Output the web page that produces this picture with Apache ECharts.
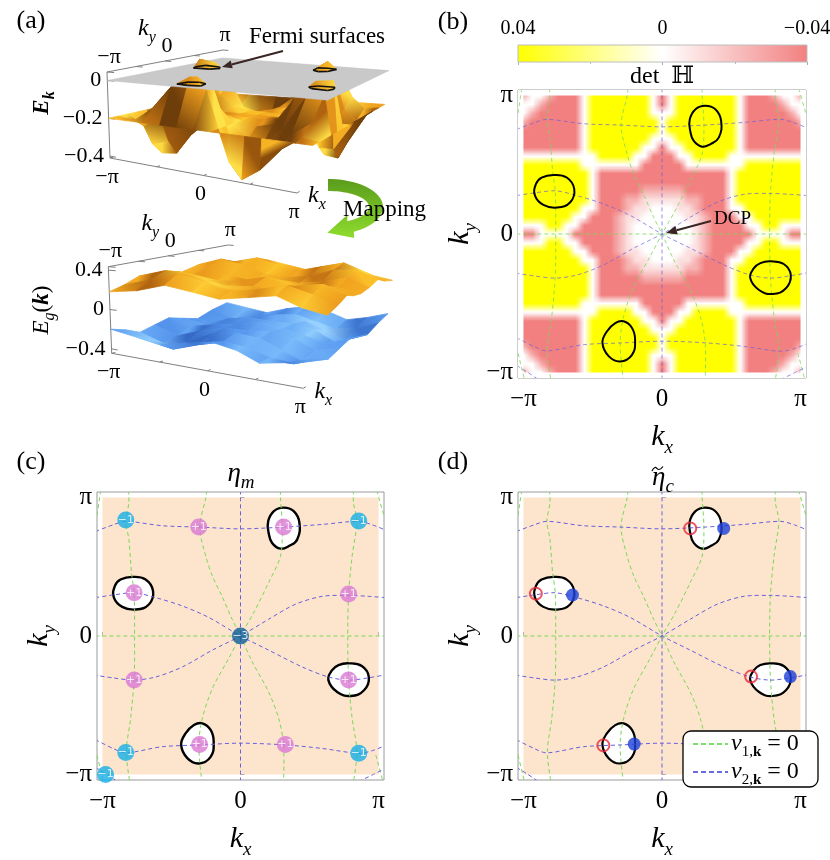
<!DOCTYPE html>
<html>
<head>
<meta charset="utf-8">
<title>Fermi surfaces, det H and velocity zeros</title>
<script src="https://cdn.jsdelivr.net/npm/echarts@6.0.0/dist/echarts.min.js"></script>
<style>
  html, body { margin: 0; padding: 0; background: #fff; }
  #main { width: 830px; height: 860px; }
</style>
</head>
<body>
<div id="main"></div>
<script>
var PI = Math.PI;
var SERIF = '"Liberation Serif", "DejaVu Serif", serif';

// ---------------- data ----------------
var kTicks = [-PI, 0, PI];
var ekTicks = [0, -0.2, -0.4];
var egTicks = [0.4, 0, -0.4];

// E_k, 13 x 13 samples, rows ky = -pi..pi, columns kx = -pi..pi
var ekGrid = [
  [-0.20, -0.20, -0.20, -0.20, -0.20, -0.20, -0.20, -0.20, -0.20, -0.20, -0.20, -0.20, -0.20],
  [-0.20, -0.21, -0.14, -0.02, 0.04, -0.02, -0.20, -0.35, -0.42, -0.36, -0.25, -0.19, -0.20],
  [-0.20, -0.25, -0.20, -0.03, 0.03, -0.03, -0.20, -0.35, -0.41, -0.33, -0.20, -0.14, -0.20],
  [-0.20, -0.36, -0.33, -0.20, -0.07, -0.13, -0.20, -0.27, -0.29, -0.20, -0.03, -0.02, -0.20],
  [-0.20, -0.42, -0.41, -0.29, -0.20, -0.18, -0.20, -0.22, -0.20, -0.06, 0.03, 0.04, -0.20],
  [-0.20, -0.35, -0.35, -0.27, -0.22, -0.20, -0.20, -0.20, -0.18, -0.13, -0.02, -0.02, -0.20],
  [-0.20, -0.20, -0.20, -0.20, -0.20, -0.20, -0.20, -0.20, -0.20, -0.20, -0.20, -0.20, -0.20],
  [-0.20, -0.02, -0.02, -0.13, -0.18, -0.20, -0.20, -0.20, -0.22, -0.27, -0.35, -0.35, -0.20],
  [-0.20, 0.04, 0.03, -0.06, -0.20, -0.22, -0.20, -0.18, -0.20, -0.29, -0.41, -0.42, -0.20],
  [-0.20, -0.02, -0.03, -0.20, -0.29, -0.27, -0.20, -0.13, -0.07, -0.20, -0.34, -0.36, -0.20],
  [-0.20, -0.15, -0.20, -0.34, -0.41, -0.35, -0.20, -0.03, 0.03, -0.03, -0.20, -0.26, -0.20],
  [-0.20, -0.19, -0.26, -0.36, -0.42, -0.35, -0.20, -0.02, 0.04, -0.02, -0.15, -0.21, -0.20],
  [-0.20, -0.20, -0.20, -0.20, -0.20, -0.20, -0.20, -0.20, -0.20, -0.20, -0.20, -0.20, -0.20]
];

// E_g(k) upper and lower sheets, 9 x 9 samples
var egUpper = [
  [0.18, 0.22, 0.30, 0.26, 0.22, 0.26, 0.30, 0.22, 0.18],
  [0.22, 0.30, 0.38, 0.32, 0.26, 0.30, 0.36, 0.30, 0.22],
  [0.28, 0.36, 0.34, 0.26, 0.22, 0.24, 0.32, 0.36, 0.28],
  [0.24, 0.32, 0.26, 0.22, 0.24, 0.20, 0.24, 0.30, 0.24],
  [0.22, 0.26, 0.22, 0.24, 0.30, 0.24, 0.22, 0.26, 0.22],
  [0.24, 0.30, 0.24, 0.20, 0.24, 0.22, 0.26, 0.32, 0.24],
  [0.28, 0.36, 0.32, 0.24, 0.22, 0.26, 0.34, 0.36, 0.28],
  [0.22, 0.30, 0.36, 0.30, 0.26, 0.32, 0.38, 0.30, 0.22],
  [0.18, 0.22, 0.30, 0.26, 0.22, 0.26, 0.30, 0.22, 0.18]
];
var egLower = [
  [-0.20, -0.24, -0.28, -0.22, -0.18, -0.22, -0.30, -0.26, -0.20],
  [-0.24, -0.32, -0.36, -0.28, -0.22, -0.24, -0.30, -0.32, -0.24],
  [-0.30, -0.38, -0.32, -0.22, -0.18, -0.20, -0.28, -0.36, -0.30],
  [-0.26, -0.34, -0.26, -0.20, -0.20, -0.18, -0.22, -0.30, -0.26],
  [-0.22, -0.28, -0.24, -0.20, -0.16, -0.20, -0.24, -0.30, -0.22],
  [-0.26, -0.30, -0.22, -0.18, -0.20, -0.20, -0.24, -0.34, -0.26],
  [-0.30, -0.36, -0.28, -0.20, -0.18, -0.22, -0.30, -0.38, -0.30],
  [-0.24, -0.32, -0.30, -0.24, -0.22, -0.28, -0.34, -0.32, -0.24],
  [-0.20, -0.24, -0.28, -0.22, -0.18, -0.22, -0.30, -0.26, -0.20]
];

// det H sampled every pi/16, rows from ky = pi (top) to -pi, columns kx = -pi..pi
// Y = 0.04, w = 0, p = -0.01, r = -0.025, R = -0.04
var detLevels = { Y: 0.04, w: 0, p: -0.01, r: -0.025, R: -0.04 };
var detRows = [
  'rwwrRRRwYYYYYYYwRwYYYYYYYwRRRrwwr',
  'wwrRRRRwYYYYYYYwRwYYYYYYYwRRRRrww',
  'wrRRRRRwYYYYYYYwwwYYYYYYYwRRRRRrw',
  'rRRRRRRwYYYYYYYYwYYYYYYYYwRRRRRRr',
  'RRRRRRRwYYYYYYYYwYYYYYYYYwRRRRRRR',
  'RRRRRRRwYYYYYYYwwwYYYYYYYwRRRRRRR',
  'RRRRRRRwYYYYYYwwRwwYYYYYYwRRRRRRR',
  'wwwwwwwwwYYYYwwRRRwwYYYYwwwwwwwww',
  'YYYYYYYwwwwwwwRRRRRwwwwwwwYYYYYYY',
  'YYYYYYYYwRRRRRRRRRRRRRRRwYYYYYYYY',
  'YYYYYYYYwRRRRRRRRRRRRRRRwYYYYYYYY',
  'YYYYYYYYwRRRRRrrrrrRRRRRwYYYYYYYY',
  'YYYYYYYYwRRRrrppppprrRRRwYYYYYYYY',
  'YYYYYYYwwRRRrppwwwpprRRRwwYYYYYYY',
  'YYYYYYwwRRRrppwwwwwpprRRRwwYYYYYY',
  'wwwYYwwRRRRrpwwwwwwwprRRRRwwYYwww',
  'RRwwwwRRRRRrpwwwwwwwprRRRRRwwwwRR',
  'wwwYYwwRRRRrpwwwwwwwprRRRRwwYYwww',
  'YYYYYYwwRRRrppwwwwwpprRRRwwYYYYYY',
  'YYYYYYYwwRRRrppwwwpprRRRwwYYYYYYY',
  'YYYYYYYYwRRRrrppppprrRRRwYYYYYYYY',
  'YYYYYYYYwRRRRRrrrrrRRRRRwYYYYYYYY',
  'YYYYYYYYwRRRRRRRRRRRRRRRwYYYYYYYY',
  'YYYYYYYYwRRRRRRRRRRRRRRRwYYYYYYYY',
  'YYYYYYYwwwwwwwRRRRRwwwwwwwYYYYYYY',
  'wwwwwwwwwYYYYwwRRRwwYYYYwwwwwwwww',
  'RRRRRRRwYYYYYYwwRwwYYYYYYwRRRRRRR',
  'RRRRRRRwYYYYYYYwwwYYYYYYYwRRRRRRR',
  'RRRRRRRwYYYYYYYYwYYYYYYYYwRRRRRRR',
  'rRRRRRRwYYYYYYYYwYYYYYYYYwRRRRRRr',
  'wrRRRRRwYYYYYYYwwwYYYYYYYwRRRRRrw',
  'wwrRRRRwYYYYYYYwRwYYYYYYYwRRRRrww',
  'rwwrRRRwYYYYYYYwRwYYYYYYYwRRRrwwr'
];

// v1 = 0 (green) and v2 = 0 (blue) curves, points [kx, ky]
var v1Lines = [
  [[-3.3, 0], [3.3, 0]],
  [[-2.55, 3.3], [-2.54, 3.02], [-2.61, 2.6], [-2.54, 2.19], [-2.48, 1.43], [-2.42, 0.97], [-2.41, 0], [-2.42, -0.96], [-2.5, -1.87], [-2.6, -2.62], [-2.52, -3.3]],
  [[2.57, 3.3], [2.57, 3.02], [2.65, 2.6], [2.54, 1.81], [2.46, 0.95], [2.44, 0], [2.46, -1.0], [2.54, -1.87], [2.65, -2.62], [2.57, -3.3]],
  [[-0.77, 3.3], [-0.79, 3.13], [-0.93, 2.47], [-0.79, 1.81], [-0.64, 1.36], [-0.42, 0.9], [-0.19, 0.38], [0, 0], [0.27, -0.59], [0.64, -1.27], [0.87, -1.87], [0.98, -2.47], [0.98, -3.3]],
  [[0.91, 3.3], [0.91, 3.13], [0.95, 2.47], [0.91, 1.81], [0.64, 1.21], [0.3, 0.53], [0, 0], [-0.27, -0.51], [-0.64, -1.19], [-0.87, -1.87], [-0.95, -2.47], [-0.88, -3.3]],
  [[-3.18, 3.3], [-3.3, 2.5]],
  [[3.1, 3.3], [3.3, 2.6]],
  [[-3.3, -2.55], [-3.12, -3.3]],
  [[3.08, -2.7], [3.24, -3.3]]
];
var v2Lines = [
  [[0, 3.3], [0, -3.3]],
  [[-3.3, 2.37], [-2.9, 2.52], [-2.61, 2.6], [-1.78, 2.5], [-0.95, 2.47], [0, 2.43], [0.98, 2.47], [1.86, 2.53], [2.69, 2.6], [3.0, 2.52], [3.3, 2.4]],
  [[-3.3, -2.35], [-2.9, -2.55], [-2.61, -2.65], [-1.78, -2.51], [-0.93, -2.47], [0, -2.43], [1.02, -2.47], [1.86, -2.55], [2.69, -2.66], [3.0, -2.6], [3.3, -2.48]],
  [[-3.3, 0.87], [-2.9, 0.93], [-2.42, 0.98], [-1.93, 0.87], [-1.32, 0.68], [-0.72, 0.42], [0, 0], [0.64, -0.32], [1.4, -0.7], [2.0, -0.93], [2.46, -1.0], [2.9, -0.95], [3.3, -0.88]],
  [[3.3, 0.87], [2.9, 0.9], [2.46, 0.92], [1.86, 0.9], [1.25, 0.72], [0.64, 0.38], [0, 0], [-0.64, -0.32], [-1.32, -0.7], [-1.93, -0.93], [-2.42, -1.0], [-2.9, -0.95], [-3.3, -0.89]],
  [[-3.3, -2.98], [-3.07, -3.12], [-2.8, -3.3]],
  [[2.69, -3.3], [3.0, -3.15], [3.3, -3.0]]
];

// Fermi surfaces (closed curves)
var fermiPockets = [
  [[0.98, 2.91], [1.21, 2.83], [1.34, 2.57], [1.29, 2.19], [1.1, 2.04], [0.91, 1.98], [0.72, 2.11], [0.64, 2.34], [0.63, 2.6], [0.76, 2.83]],
  [[-2.46, 1.34], [-2.16, 1.28], [-1.99, 1.02], [-2.08, 0.72], [-2.38, 0.6], [-2.69, 0.66], [-2.88, 0.87], [-2.86, 1.13], [-2.73, 1.28]],
  [[2.46, -0.62], [2.76, -0.68], [2.92, -0.93], [2.81, -1.23], [2.51, -1.36], [2.2, -1.27], [2.0, -1.0], [2.08, -0.78], [2.23, -0.66]],
  [[-0.87, -1.98], [-0.68, -2.13], [-0.61, -2.4], [-0.68, -2.74], [-0.95, -2.89], [-1.21, -2.77], [-1.35, -2.47], [-1.25, -2.21], [-1.06, -2.02]]
];

// eta_m charges (c) and eta_c points (d)
var chargePlus1 = [[-0.95, 2.47], [0.98, 2.47], [-2.42, 0.98], [2.46, 0.95], [-2.42, -1.0], [2.46, -1.0], [-0.93, -2.46], [1.02, -2.46]];
var chargeMinus1 = [[-2.61, 2.63], [2.69, 2.61], [-2.61, -2.64], [2.69, -2.66], [-3.07, -3.14]];
var chargeMinus3 = [[0, 0]];
var etaOpen = [[0.64, 2.44], [-2.86, 0.96], [2.02, -0.92], [-1.33, -2.48]];
var etaSolid = [[1.40, 2.44], [-2.03, 0.93], [2.91, -0.92], [-0.63, -2.45]];

// ---------------- layout ----------------
var KR = 3.265;
var boxTop = {
  emin: -0.41, emax: 0.045, ticks: ekTicks,
  c000: [110, 158], c100: [297, 193], c010: [221, 130], c110: [380, 140],
  c001: [107, 72], c101: [331, 90], c011: [223, 50], c111: [390, 63]
};
var boxBottom = {
  emin: -0.445, emax: 0.435, ticks: egTicks,
  c000: [111.7, 353.3], c100: [303.3, 388.3], c010: [226.3, 325], c110: [385.3, 335],
  c001: [108.3, 266.7], c101: [337.3, 285.3], c011: [228.3, 245], c111: [395.3, 258]
};
var boxes = [boxTop, boxBottom];

var GREEN = '#79d957';
var BLUE = '#6a60dc';
var orangePal = [[0, [110, 62, 10]], [0.45, [185, 105, 16]], [0.7, [240, 160, 30]], [0.86, [252, 196, 42]], [1, [255, 232, 80]]];
var bluePal = [[0, [30, 62, 135]], [0.45, [52, 106, 198]], [0.7, [85, 150, 238]], [0.86, [118, 184, 250]], [1, [170, 224, 255]]];

// ---------------- helpers ----------------
function kLabel(v) {
  if (Math.abs(v) < 1e-9) return '0';
  return v < 0 ? '\u2212\u03c0' : '\u03c0';
}
function eLabel(v) {
  if (Math.abs(v) < 1e-9) return '0';
  return (v < 0 ? '\u2212' : '') + Math.abs(v).toFixed(1);
}
function bilerp(c00, c10, c01, c11, u, v) {
  return [
    (1 - u) * (1 - v) * c00[0] + u * (1 - v) * c10[0] + (1 - u) * v * c01[0] + u * v * c11[0],
    (1 - u) * (1 - v) * c00[1] + u * (1 - v) * c10[1] + (1 - u) * v * c01[1] + u * v * c11[1]
  ];
}
function project(box, kx, ky, e) {
  var u = (kx + PI) / (2 * PI), v = (ky + PI) / (2 * PI);
  var w = (e - box.emin) / (box.emax - box.emin);
  var b = bilerp(box.c000, box.c100, box.c010, box.c110, u, v);
  var t = bilerp(box.c001, box.c101, box.c011, box.c111, u, v);
  return [b[0] + (t[0] - b[0]) * w, b[1] + (t[1] - b[1]) * w];
}
function norm(a) {
  var l = Math.sqrt(a[0] * a[0] + a[1] * a[1] + a[2] * a[2]) || 1;
  return [a[0] / l, a[1] / l, a[2] / l];
}
var LIGHT = norm([0.6, 0.25, 0.75]);
function palColor(pal, t) {
  t = Math.max(0, Math.min(1, t));
  for (var i = 1; i < pal.length; i++) {
    if (t <= pal[i][0]) {
      var a = pal[i - 1], b = pal[i], f = (t - a[0]) / (b[0] - a[0]);
      return 'rgb(' + [0, 1, 2].map(function (k) { return Math.round(a[1][k] + (b[1][k] - a[1][k]) * f); }).join(',') + ')';
    }
  }
  return 'rgb(' + pal[pal.length - 1][1].join(',') + ')';
}
// brightness at every grid vertex (central differences, periodic grid)
function vertexShades(grid, box, hz) {
  var n = grid.length - 1, s = hz / (box.emax - box.emin), T = [];
  for (var j = 0; j <= n; j++) {
    var row = [];
    for (var i = 0; i <= n; i++) {
      var ip = i === n ? 1 : i + 1, im = i === 0 ? n - 1 : i - 1;
      var jp = j === n ? 1 : j + 1, jm = j === 0 ? n - 1 : j - 1;
      var du = (grid[j][ip] - grid[j][im]) * s * n / 2;
      var dv = (grid[jp][i] - grid[jm][i]) * s * n / 2;
      var nn = norm([-du, -dv, 1]);
      row.push(nn[0] * LIGHT[0] + nn[1] * LIGHT[1] + nn[2] * LIGHT[2]);
    }
    T.push(row);
  }
  return T;
}
function quadCorners(grid, i, j) {
  var n = grid.length - 1, step = 2 * PI / n;
  return [[i, j], [i + 1, j], [i + 1, j + 1], [i, j + 1]].map(function (q) {
    return [-PI + q[0] * step, -PI + q[1] * step, grid[q[1]][q[0]], q[0], q[1]];
  });
}
function quadOrder(grid, box, onlyAbove) {
  var n = grid.length - 1, list = [];
  for (var j = 0; j < n; j++) {
    for (var i = 0; i < n; i++) {
      if (onlyAbove) {
        var c = quadCorners(grid, i, j);
        if (!c.some(function (p) { return p[2] > 0; })) continue;
      }
      var depth = bilerp(box.c000, box.c100, box.c010, box.c110, (i + 0.5) / n, (j + 0.5) / n)[1];
      list.push([i, j, depth]);
    }
  }
  list.sort(function (a, b) { return a[2] - b[2]; });
  return list;
}
// gradient fill between the darkest and brightest corner of a quad
function quadFill(pts, ts, pal, lift) {
  var lo = 0, hi = 0;
  for (var k = 1; k < ts.length; k++) {
    if (ts[k] < ts[lo]) lo = k;
    if (ts[k] > ts[hi]) hi = k;
  }
  var c0 = palColor(pal, ts[lo] + lift), c1 = palColor(pal, ts[hi] + lift);
  if (ts[hi] - ts[lo] < 0.01 || lo === hi) return c1;
  return new echarts.graphic.LinearGradient(pts[lo][0], pts[lo][1], pts[hi][0], pts[hi][1],
    [{ offset: 0, color: c0 }, { offset: 1, color: c1 }], true);
}
function clipAbove(poly) {
  var out = [], cuts = [];
  for (var a = 0; a < poly.length; a++) {
    var p = poly[a], q = poly[(a + 1) % poly.length];
    var pin = p[2] >= 0, qin = q[2] >= 0;
    if (pin) out.push(p);
    if (pin !== qin) {
      var t = p[2] / (p[2] - q[2]);
      var x = [p[0] + (q[0] - p[0]) * t, p[1] + (q[1] - p[1]) * t, 0, 0, 0, p[5] + (q[5] - p[5]) * t];
      out.push(x);
      cuts.push({ pt: x, exit: pin });
    }
  }
  return { out: out, cuts: cuts };
}
function txt(text, x, y, size, opt) {
  opt = opt || {};
  var rot = opt.rot || 0;
  return {
    type: 'text', z: opt.z || 50,
    x: rot ? x : 0, y: rot ? y : 0, rotation: rot,
    style: {
      text: text, x: rot ? 0 : x, y: rot ? 0 : y,
      fill: opt.color || '#000',
      font: (opt.italic ? 'italic ' : '') + (opt.bold ? 'bold ' : '') + size + 'px ' + SERIF,
      align: opt.align || 'center', textAlign: opt.align || 'center',
      verticalAlign: 'middle', textVerticalAlign: 'middle',
      rich: opt.rich
    }
  };
}
function arrowEls(x1, y1, x2, y2, color, w, head) {
  var dx = x2 - x1, dy = y2 - y1, L = Math.sqrt(dx * dx + dy * dy);
  var ux = dx / L, uy = dy / L;
  var bx = x2 - ux * head, by = y2 - uy * head;
  var px = -uy * head * 0.4, py = ux * head * 0.4;
  return [
    { type: 'line', z: 60, shape: { x1: x1, y1: y1, x2: bx, y2: by }, style: { stroke: color, lineWidth: w } },
    { type: 'polygon', z: 60, shape: { points: [[x2, y2], [bx + px, by + py], [bx - px, by - py]] }, style: { fill: color } }
  ];
}
function richSub(big, small) {
  return {
    a: { fontFamily: SERIF, fontStyle: 'italic', fontSize: big, lineHeight: big + 10, verticalAlign: 'middle', color: '#000' },
    s: { fontFamily: SERIF, fontStyle: 'italic', fontSize: small, lineHeight: big + 10, verticalAlign: 'bottom', color: '#000' }
  };
}

// ---------------- axes for the 2D panels ----------------
function kAxisX(gi) {
  return {
    type: 'value', gridIndex: gi, min: -KR, max: KR,
    axisLine: { show: false }, splitLine: { show: false },
    axisTick: { show: true, inside: true, length: 4, customValues: kTicks, lineStyle: { color: '#777' } },
    axisLabel: { customValues: kTicks, formatter: kLabel, margin: 9, color: '#000', fontFamily: SERIF, fontSize: 25 },
    name: '{a|k}{s|x}', nameLocation: 'middle', nameGap: 39,
    nameTextStyle: { rich: richSub(30, 19) }
  };
}
function kAxisY(gi) {
  return {
    type: 'value', gridIndex: gi, min: -KR, max: KR,
    axisLine: { show: false }, splitLine: { show: false },
    axisTick: { show: true, inside: true, length: 4, customValues: kTicks, lineStyle: { color: '#777' } },
    axisLabel: { customValues: kTicks, formatter: kLabel, margin: 5, color: '#000', fontFamily: SERIF, fontSize: 25 },
    name: '{a|k}{s|y}', nameLocation: 'middle', nameGap: 38,
    nameTextStyle: { rich: richSub(30, 19) }
  };
}

// ---------------- series builders ----------------
function curveSeries(gi, lines, color, opacity) {
  return {
    type: 'custom', xAxisIndex: gi, yAxisIndex: gi, clip: true, silent: true, z: 4,
    data: lines.map(function (l, idx) { return [idx]; }),
    renderItem: function (params, api) {
      var pts = lines[params.dataIndex].map(function (p) { return api.coord(p); });
      return {
        type: 'polyline', shape: { points: pts, smooth: 0.3 },
        style: { fill: null, stroke: color, lineWidth: 1, lineDash: [4, 3], opacity: opacity }
      };
    }
  };
}
function pocketSeries(gi, fill, lw, z) {
  return {
    type: 'custom', xAxisIndex: gi, yAxisIndex: gi, clip: true, silent: true, z: z,
    data: fermiPockets.map(function (p, idx) { return [idx]; }),
    renderItem: function (params, api) {
      var pts = fermiPockets[params.dataIndex].map(function (p) { return api.coord(p); });
      return { type: 'polygon', shape: { points: pts, smooth: 0.45 }, style: { fill: fill, stroke: '#000', lineWidth: lw } };
    }
  };
}
function bgSeries(gi) {
  return {
    type: 'custom', xAxisIndex: gi, yAxisIndex: gi, silent: true, z: 1,
    data: [[0]],
    renderItem: function (params, api) {
      var a = api.coord([-PI, PI]), b = api.coord([PI, -PI]);
      return { type: 'rect', shape: { x: a[0], y: a[1], width: b[0] - a[0], height: b[1] - a[1] }, style: { fill: '#fde4cc' } };
    }
  };
}
// white margin between the |k| = pi square and the frame of (b)
var marginSeries = {
  type: 'custom', xAxisIndex: 0, yAxisIndex: 0, silent: true, z: 2, clip: true,
  data: [[0]],
  renderItem: function (params, api) {
    var o0 = api.coord([-KR, KR]), o1 = api.coord([KR, -KR]);
    var i0 = api.coord([-PI, PI]), i1 = api.coord([PI, -PI]);
    var st = { fill: '#fff' };
    return { type: 'group', children: [
      { type: 'rect', shape: { x: o0[0], y: o0[1], width: o1[0] - o0[0], height: i0[1] - o0[1] }, style: st },
      { type: 'rect', shape: { x: o0[0], y: i1[1], width: o1[0] - o0[0], height: o1[1] - i1[1] }, style: st },
      { type: 'rect', shape: { x: o0[0], y: o0[1], width: i0[0] - o0[0], height: o1[1] - o0[1] }, style: st },
      { type: 'rect', shape: { x: i1[0], y: o0[1], width: o1[0] - i1[0], height: o1[1] - o0[1] }, style: st }
    ] };
  }
};
function chargeSeries(data, color, label) {
  return {
    type: 'scatter', xAxisIndex: 1, yAxisIndex: 1, z: 6, silent: true,
    data: data, symbolSize: 17, itemStyle: { color: color },
    label: { show: true, position: 'inside', formatter: label, color: '#fff', fontSize: 11, fontFamily: 'DejaVu Sans' }
  };
}

// det H heatmap: every sample is coloured by the visualMap and written into a
// small bitmap, which is then stretched over the k square (smooth interpolation)
var detData = [];
detRows.forEach(function (row, r) {
  for (var c = 0; c < row.length; c++) {
    detData.push([(c - 16) * PI / 16, (16 - r) * PI / 16, detLevels[row[c]]]);
  }
});
var detCanvas = document.createElement('canvas');
detCanvas.width = detRows[0].length;
detCanvas.height = detRows.length;
var detCtx = detCanvas.getContext('2d');
var heatSeries = {
  type: 'custom', xAxisIndex: 0, yAxisIndex: 0, silent: true, z: 1, clip: true,
  data: detData,
  renderItem: function (params, api) {
    var kx = api.value(0), ky = api.value(1), h = PI / 32;
    detCtx.fillStyle = api.visual('color');
    detCtx.fillRect(Math.round(kx / (2 * h)) + 16, 16 - Math.round(ky / (2 * h)), 1, 1);
    if (params.dataIndex !== 0) return null;
    var a = api.coord([-PI - h, PI + h]), b = api.coord([PI + h, -PI - h]);
    return { type: 'image', style: { image: detCanvas, x: a[0], y: a[1], width: b[0] - a[0], height: b[1] - a[1] } };
  }
};

// surfaces
function surfaceSeries(grid, box, pal, hz, z) {
  var T = vertexShades(grid, box, hz);
  return {
    type: 'custom', xAxisIndex: 3, yAxisIndex: 3, silent: true, z: z,
    data: quadOrder(grid, box, false),
    renderItem: function (params, api) {
      var c = quadCorners(grid, api.value(0), api.value(1));
      var pts = c.map(function (p) { return api.coord(project(box, p[0], p[1], p[2])); });
      var ts = c.map(function (p) { return T[p[4]][p[3]]; });
      var fill = quadFill(pts, ts, pal, 0);
      return { type: 'polygon', shape: { points: pts }, style: { fill: fill, stroke: fill, lineWidth: 0.8 } };
    }
  };
}
var planeSeries = {
  type: 'custom', xAxisIndex: 3, yAxisIndex: 3, silent: true, z: 3,
  data: [[0]],
  renderItem: function (params, api) {
    var pts = [[-PI, -PI], [PI, -PI], [PI, PI], [-PI, PI]].map(function (k) {
      return api.coord(project(boxTop, k[0], k[1], 0));
    });
    return { type: 'polygon', shape: { points: pts }, style: { fill: '#c9c9c9', stroke: '#c0c0c0', lineWidth: 0.5 } };
  }
};
var ekShade = vertexShades(ekGrid, boxTop, 0.4);
var domeSeries = {
  type: 'custom', xAxisIndex: 3, yAxisIndex: 3, silent: true, z: 4,
  data: quadOrder(ekGrid, boxTop, true),
  renderItem: function (params, api) {
    var c = quadCorners(ekGrid, api.value(0), api.value(1));
    c.forEach(function (p) { p[5] = ekShade[p[4]][p[3]]; });
    var res = clipAbove(c);
    var P = function (p) { return api.coord(project(boxTop, p[0], p[1], p[2])); };
    var pts = res.out.map(P);
    var ts = res.out.map(function (p) { return 0.5 + 0.45 * p[5]; });
    var fill = quadFill(pts, ts, orangePal, 0);
    var ch = [{ type: 'polygon', shape: { points: pts }, style: { fill: fill, stroke: fill, lineWidth: 0.7 } }];
    var n = res.cuts.length;
    for (var a = 0; a < n; a++) {
      if (res.cuts[a].exit) {
        var p1 = P(res.cuts[a].pt), p2 = P(res.cuts[(a + 1) % n].pt);
        ch.push({ type: 'line', z2: 5, shape: { x1: p1[0], y1: p1[1], x2: p2[0], y2: p2[1] }, style: { stroke: '#111', lineWidth: 1.6 } });
      }
    }
    return { type: 'group', children: ch };
  }
};
var kRich3 = richSub(24, 16);
var axes3dSeries = {
  type: 'custom', xAxisIndex: 3, yAxisIndex: 3, silent: true, z: 1,
  data: [[0], [1]],
  renderItem: function (params, api) {
    var box = boxes[params.dataIndex];
    var P = function (kx, ky, e) { return api.coord(project(box, kx, ky, e)); };
    var ch = [];
    var seg = function (a, b) {
      ch.push({ type: 'line', shape: { x1: a[0], y1: a[1], x2: b[0], y2: b[1] }, style: { stroke: '#808080', lineWidth: 1 } });
    };
    var lo = box.emin, hi = box.emax;
    seg(P(-PI, -PI, lo), P(-PI, -PI, hi));
    seg(P(-PI, -PI, hi), P(-PI, PI, hi));
    seg(P(-PI, -PI, lo), P(PI, -PI, lo));
    [-PI, -PI / 2, 0, PI / 2, PI].forEach(function (k) {
      seg(P(k, -PI, lo), P(k, -PI + 0.2, lo));
      seg(P(-PI, k, hi), P(-PI + 0.2, k, hi));
    });
    box.ticks.forEach(function (e) {
      seg(P(-PI, -PI, e), P(-PI + 0.2, -PI, e));
      var p = P(-PI, -PI, e);
      ch.push(txt(eLabel(e), p[0] - 6, p[1], 22, { align: 'right' }));
    });
    kTicks.forEach(function (k) {
      var a = P(k, -PI, lo);
      ch.push(txt(kLabel(k), a[0] - 3, a[1] + 19, 22));
      var b = P(-PI, k, hi);
      ch.push(txt(kLabel(k), b[0] + 2, b[1] - 15, 22));
    });
    var ex = P(PI, -PI, lo);
    ch.push(txt('{a|k}{s|x}', ex[0] + 20, ex[1] + 3, 24, { rich: kRich3 }));
    var ey = P(-PI, 0, hi);
    ch.push(txt('{a|k}{s|y}', ey[0] - 18, ey[1] - 32, 24, { rich: kRich3 }));
    return { type: 'group', children: ch };
  }
};

// colour bar for det H
var colorbarSeries = {
  type: 'custom', xAxisIndex: 4, yAxisIndex: 4, silent: true, z: 2,
  data: [[0]],
  renderItem: function (params, api) {
    var a = api.coord([0.04, 1]), b = api.coord([-0.04, 0]);
    return {
      type: 'rect', shape: { x: a[0], y: a[1], width: b[0] - a[0], height: b[1] - a[1] },
      style: {
        stroke: '#bdbdbd', lineWidth: 1,
        fill: new echarts.graphic.LinearGradient(0, 0, 1, 0, [
          { offset: 0, color: '#ffff00' }, { offset: 0.5, color: '#ffffff' }, { offset: 1, color: '#f28080' }
        ])
      }
    };
  }
};

// ---------------- graphics ----------------
function crescent() {
  var cx = 328, cy = 207, outer = [], inner = [];
  for (var d = -90; d <= 62; d += 4) {
    var r = d * PI / 180;
    outer.push([cx + 55 * Math.cos(r), cy + 28 * Math.sin(r)]);
    inner.push([cx + 41 * Math.cos(r), cy + 16 * Math.sin(r)]);
  }
  var o = outer[outer.length - 1], i = inner[inner.length - 1];
  var mx = (o[0] + i[0]) / 2, my = (o[1] + i[1]) / 2;
  var tx = -0.965, ty = 0.26;
  var pts = outer.concat([[mx + 12 * ty + 0.5, my - 12 * tx], [mx + 24 * tx, my + 24 * ty], [mx - 12 * ty, my + 12 * tx]]).concat(inner.reverse());
  return {
    type: 'polygon', z: 40, shape: { points: pts },
    style: { fill: new echarts.graphic.LinearGradient(0, 0, 0, 1, [{ offset: 0, color: '#5a9c1c' }, { offset: 1, color: '#8fdc2e' }]) }
  };
}

var legendRich = {
  v: { fontFamily: SERIF, fontStyle: 'italic', fontSize: 24, lineHeight: 32, verticalAlign: 'middle', color: '#000' },
  s: { fontFamily: SERIF, fontSize: 15, lineHeight: 32, verticalAlign: 'bottom', color: '#000' },
  b: { fontFamily: SERIF, fontWeight: 'bold', fontSize: 15, lineHeight: 32, verticalAlign: 'bottom', color: '#000' },
  t: { fontFamily: SERIF, fontSize: 24, lineHeight: 32, verticalAlign: 'middle', color: '#000' }
};

var graphics = [
  txt('(a)', 31, 21, 26), txt('(b)', 453, 22, 26), txt('(c)', 31, 462, 26), txt('(d)', 453, 462, 26),
  txt('Fermi surfaces', 249, 37, 23, { align: 'left' }),
  crescent(),
  txt('Mapping', 343, 210, 23, { align: 'left', z: 45 }),
  txt('{a|E}{s|k}', 42, 103, 22, { rot: PI / 2, rich: {
    a: { fontFamily: SERIF, fontStyle: 'italic', fontWeight: 'bold', fontSize: 23, lineHeight: 32, verticalAlign: 'middle', color: '#000' },
    s: { fontFamily: SERIF, fontStyle: 'italic', fontWeight: 'bold', fontSize: 16, lineHeight: 32, verticalAlign: 'bottom', color: '#000' }
  } }),
  txt('{a|E}{s|g}{p|(}{b|k}{p|)}', 42, 310, 22, { rot: PI / 2, rich: {
    a: { fontFamily: SERIF, fontStyle: 'italic', fontSize: 23, lineHeight: 32, verticalAlign: 'middle', color: '#000' },
    s: { fontFamily: SERIF, fontStyle: 'italic', fontSize: 16, lineHeight: 32, verticalAlign: 'bottom', color: '#000' },
    p: { fontFamily: SERIF, fontSize: 23, lineHeight: 32, verticalAlign: 'middle', color: '#000' },
    b: { fontFamily: SERIF, fontStyle: 'italic', fontWeight: 'bold', fontSize: 23, lineHeight: 32, verticalAlign: 'middle', color: '#000' }
  } }),
  txt('det  \u210d', 662, 77, 24),
  txt('DCP', 714, 219, 19, { align: 'left' }),
  txt('{a|\u03b7}{s|m}', 241, 474, 26, { rich: richSub(27, 19) }),
  txt('{a|\u03b7}{s|c}', 663, 478, 26, { rich: richSub(27, 19) }),
  { type: 'polyline', z: 50, shape: { points: [[652, 471], [655, 467.5], [659, 469.5], [663, 466.5]], smooth: 0.5 }, style: { stroke: '#000', lineWidth: 1.2, fill: null } },
  { type: 'rect', z: 100, shape: { x: 683, y: 731, width: 135, height: 56, r: 8 }, style: { fill: '#fff', stroke: '#000', lineWidth: 1.3 } },
  { type: 'line', z: 101, shape: { x1: 693, y1: 744, x2: 728, y2: 744 }, style: { stroke: '#4fd63a', lineWidth: 1.6, lineDash: [5, 3] } },
  { type: 'line', z: 101, shape: { x1: 693, y1: 772, x2: 728, y2: 772 }, style: { stroke: '#3a3ad8', lineWidth: 1.6, lineDash: [5, 3] } },
  txt('{v|v}{s|1,}{b|k}{t| = 0}', 731, 744, 24, { align: 'left', z: 102, rich: legendRich }),
  txt('{v|v}{s|2,}{b|k}{t| = 0}', 731, 772, 24, { align: 'left', z: 102, rich: legendRich })
].concat(arrowEls(283, 51, 222, 67, '#3a2424', 2, 10))
 .concat(arrowEls(711, 221, 666, 233, '#3a2424', 2, 11));

// ---------------- chart ----------------
var chart = echarts.init(document.getElementById('main'), null, { renderer: 'canvas' });
var gridBase = { show: true, borderColor: '#9a9a9a', borderWidth: 1, outerBoundsMode: 'none' };

var option = {
  animation: false,
  backgroundColor: '#fff',
  grid: [
    Object.assign({ left: 518, top: 90, width: 288, height: 288 }, gridBase),
    Object.assign({ left: 97, top: 492, width: 287, height: 288 }, gridBase),
    Object.assign({ left: 518, top: 492, width: 288, height: 288 }, gridBase),
    { left: 0, top: 0, width: 830, height: 860, show: false, outerBoundsMode: 'none' },
    { left: 518, top: 45, width: 289, height: 17, show: false, outerBoundsMode: 'none' }
  ],
  xAxis: [
    kAxisX(0), kAxisX(1), kAxisX(2),
    { type: 'value', gridIndex: 3, min: 0, max: 830, show: false },
    {
      type: 'value', gridIndex: 4, min: -0.04, max: 0.04, interval: 0.04, inverse: true, position: 'top',
      axisLine: { show: false }, splitLine: { show: false },
      axisTick: { show: true, inside: true, length: 3, lineStyle: { color: '#aaa' } },
      minorTick: { show: true, splitNumber: 2, length: 2, lineStyle: { color: '#bbb' } },
      axisLabel: {
        margin: 6, color: '#000', fontFamily: SERIF, fontSize: 20,
        formatter: function (v) { return Math.abs(v) < 1e-9 ? '0' : (v < 0 ? '\u2212' : '') + Math.abs(v).toFixed(2); }
      }
    }
  ],
  yAxis: [
    kAxisY(0), kAxisY(1), kAxisY(2),
    { type: 'value', gridIndex: 3, min: 0, max: 860, inverse: true, show: false },
    { type: 'value', gridIndex: 4, min: 0, max: 1, show: false }
  ],
  visualMap: [{
    type: 'continuous', show: false, seriesIndex: 0, dimension: 2, min: -0.04, max: 0.04,
    inRange: { color: ['#f28080', '#ffffff', '#ffff00'] }
  }],
  graphic: { elements: graphics },
  series: [
    heatSeries,
    marginSeries,
    curveSeries(0, v1Lines, GREEN, 0.8),
    curveSeries(0, v2Lines, BLUE, 0.7),
    pocketSeries(0, null, 2, 5),
    bgSeries(1),
    pocketSeries(1, '#ffffff', 2.4, 2),
    curveSeries(1, v1Lines, GREEN, 1),
    curveSeries(1, v2Lines, BLUE, 1),
    chargeSeries(chargePlus1, '#d978d3', '+1'),
    chargeSeries(chargeMinus1, '#16afe6', '\u22121'),
    chargeSeries(chargeMinus3, '#0a5e9a', '\u22123'),
    bgSeries(2),
    pocketSeries(2, '#ffffff', 2.2, 2),
    curveSeries(2, v1Lines, GREEN, 1),
    curveSeries(2, v2Lines, BLUE, 1),
    {
      type: 'scatter', xAxisIndex: 2, yAxisIndex: 2, z: 6, silent: true, data: etaOpen, symbolSize: 12,
      itemStyle: { color: 'rgba(255,255,255,0)', borderColor: '#e8283a', borderWidth: 2 }
    },
    {
      type: 'scatter', xAxisIndex: 2, yAxisIndex: 2, z: 6, silent: true, data: etaSolid, symbolSize: 13,
      itemStyle: { color: '#1c40d8' }
    },
    colorbarSeries,
    axes3dSeries,
    surfaceSeries(ekGrid, boxTop, orangePal, 0.4, 2),
    planeSeries,
    domeSeries,
    surfaceSeries(egLower, boxBottom, bluePal, 0.5, 2),
    surfaceSeries(egUpper, boxBottom, orangePal, 0.5, 3)
  ]
};
chart.setOption(option);
window.addEventListener('resize', chart.resize);
</script>
</body>
</html>
